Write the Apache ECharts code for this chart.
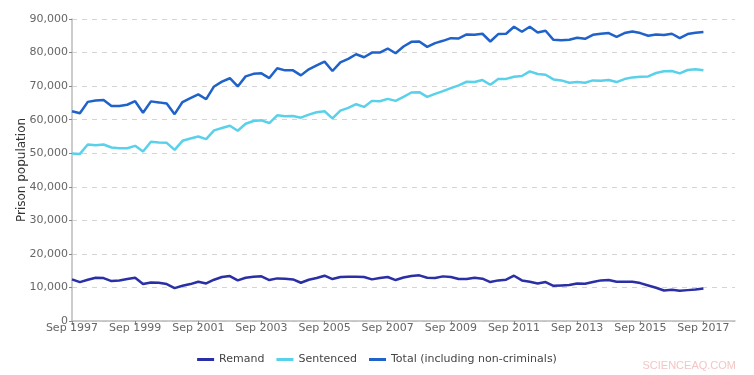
<!DOCTYPE html>
<html>
<head>
<meta charset="utf-8">
<script src="https://cdn.jsdelivr.net/npm/echarts@6/dist/echarts.min.js"></script>
<style>
  html, body { margin: 0; padding: 0; background: #fff; }
  #chart { width: 754px; height: 375px; }
</style>
</head>
<body>
<div id="chart"></div>
<script>
// quarterly, Sep 1997 .. Sep 2017 (axis runs on to Sep 2018)
const months = ['Sep', 'Dec', 'Mar', 'Jun']
const quarters = []
for (let i = 0; i < 85; i++) {
  const year = 1997 + Math.floor((i + 2) / 4)
  quarters.push(months[i % 4] + ' ' + year)
}

const remand = [
  12400, 11600, 12300, 12900, 12800, 11900, 12100, 12500, 12900, 11000,
  11500, 11400, 11000, 9800, 10500, 11000, 11700, 11200, 12300, 13100,
  13400, 12100, 12900, 13200, 13300, 12200, 12700, 12600, 12400, 11400,
  12300, 12800, 13500, 12500, 13100, 13200, 13200, 13100, 12400, 12800,
  13100, 12200, 12950, 13400, 13600, 12900, 12800, 13300, 13100, 12500,
  12500, 12900, 12600, 11600, 12100, 12300, 13500, 12100, 11700, 11200,
  11600, 10500, 10600, 10700, 11200, 11100, 11600, 12100, 12200, 11700,
  11700, 11700, 11300, 10600, 9900, 9100, 9300, 9000, 9200, 9400,
  9700
]

const sentenced = [
  49900, 49800, 52600, 52400, 52600, 51700, 51500, 51500, 52200, 50500,
  53400, 53200, 53100, 51000, 53700, 54400, 55000, 54200, 56800, 57500,
  58200, 56700, 58800, 59600, 59800, 59000, 61300, 61000, 61100, 60600,
  61500, 62200, 62500, 60400, 62700, 63500, 64600, 63800, 65600, 65500,
  66200, 65600, 66800, 68100, 68200, 66800, 67700, 68500, 69400, 70200,
  71300, 71200, 71800, 70400, 72100, 72150, 72800, 73000, 74400, 73600,
  73400, 72000, 71700, 71000, 71200, 71000, 71700, 71600, 71800, 71200,
  72100, 72600, 72800, 72900, 73900, 74400, 74500, 73800, 74800, 75000,
  74700
]

const total = [
  62500, 61900, 65300, 65700, 65850, 64050, 64100, 64450, 65500, 62050,
  65450, 65150, 64800, 61650, 65250, 66450, 67550, 66100, 69900, 71350,
  72350, 69900, 72900, 73650, 73800, 72400, 75300, 74700, 74700, 73200,
  75000, 76200, 77300, 74500, 77100, 78100, 79500, 78600, 80000, 80000,
  81200, 79800, 81800, 83200, 83300, 81700, 82800, 83500, 84300, 84200,
  85400, 85300, 85600, 83300, 85500, 85600, 87700, 86200, 87700, 86000,
  86500, 83800, 83700, 83800, 84400, 84100, 85300, 85600, 85800, 84700,
  85800, 86300, 85800, 85000, 85400, 85200, 85600, 84300, 85500, 85900,
  86100
]

const yTicks = { min: 0, max: 90000, interval: 10000 }

const chart = echarts.init(document.getElementById('chart'))
const lineSeries = (name, data, color) => ({
  name,
  type: 'line',
  data,
  showSymbol: false,
  symbol: 'none',
  lineStyle: { width: 2.5, color },
  itemStyle: { color },
  animation: false
})

chart.setOption({
  textStyle: { fontFamily: 'DejaVu Sans' },
  grid: { left: 72, right: 19, top: 19, bottom: 54, containLabel: false },
  legend: {
    bottom: 5,
    left: 'center',
    itemWidth: 17,
    itemHeight: 3,
    itemGap: 12,
    icon: 'rect',
    textStyle: { fontSize: 11, color: '#444', fontFamily: 'DejaVu Sans' },
    data: ['Remand', 'Sentenced', 'Total (including non-criminals)']
  },
  xAxis: {
    type: 'category',
    data: quarters,
    boundaryGap: false,
    axisLine: { lineStyle: { color: '#bbb', width: 1.5 } },
    axisTick: { interval: 7, length: 4, lineStyle: { color: '#888' } },
    axisLabel: { interval: 7, color: '#666', fontSize: 11, margin: 2 },
    splitLine: { show: false }
  },
  yAxis: {
    type: 'value',
    min: yTicks.min,
    max: yTicks.max,
    interval: yTicks.interval,
    name: 'Prison population',
    nameLocation: 'middle',
    nameGap: 44,
    nameMoveOverlap: false,
    nameTextStyle: { fontSize: 12, color: '#333' },
    axisLine: { show: true, lineStyle: { color: '#bbb', width: 1.5 } },
    axisTick: { show: true, length: 3, lineStyle: { color: '#888' } },
    axisLabel: {
      color: '#666', fontSize: 11, margin: 4,
      formatter: v => v.toLocaleString('en-US')
    },
    splitLine: { lineStyle: { color: '#d4d4d4', type: [5, 5], width: 1 } }
  },
  graphic: [{
    type: 'text',
    right: 18,
    bottom: 4,
    style: { text: 'SCIENCEAQ.COM', fill: '#f3c6c6', fontSize: 11, fontFamily: 'Liberation Sans' }
  }],
  series: [
    lineSeries('Remand', remand, '#2a2fa5'),
    lineSeries('Sentenced', sentenced, '#5ad1ea'),
    lineSeries('Total (including non-criminals)', total, '#1f62c9')
  ]
})
</script>
</body>
</html>
